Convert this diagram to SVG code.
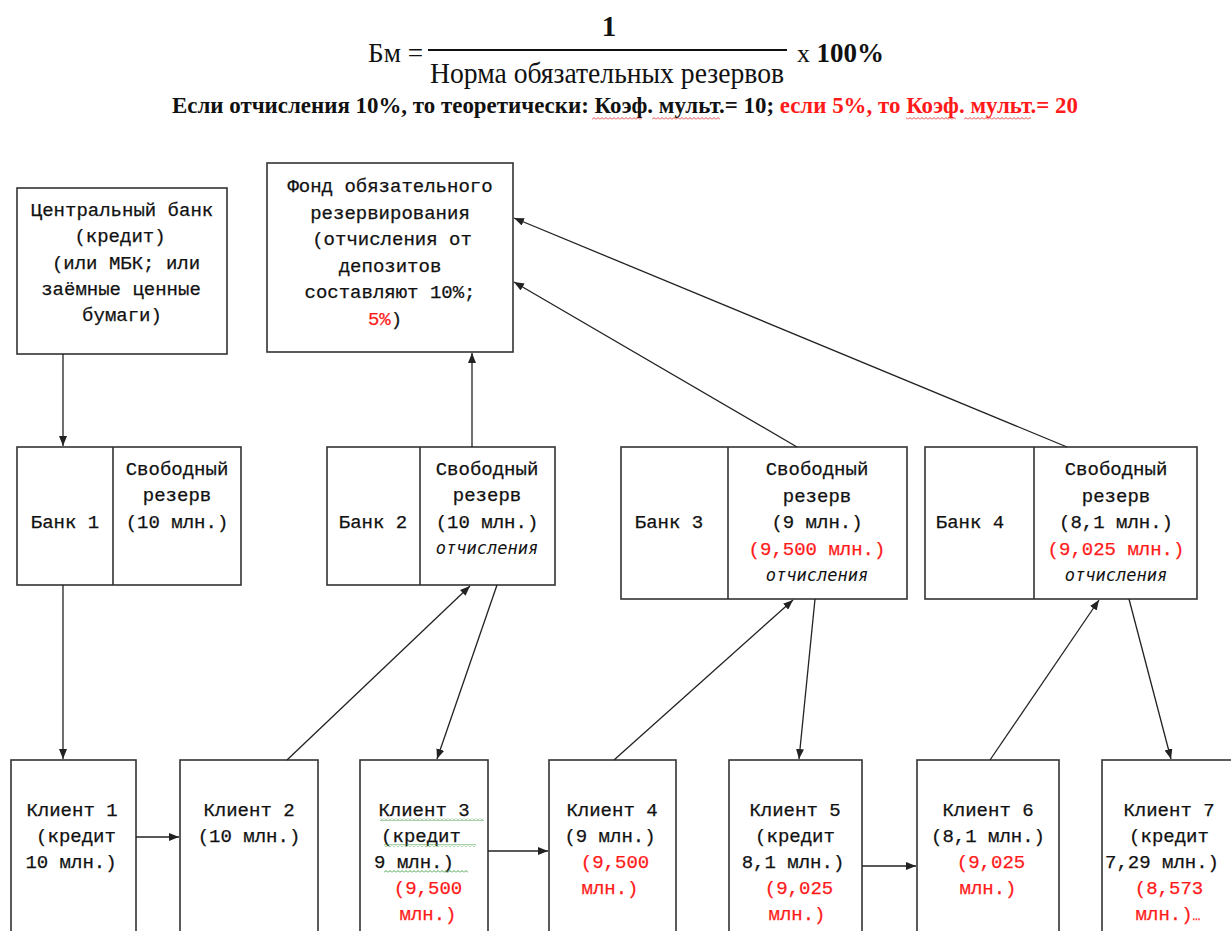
<svg xmlns="http://www.w3.org/2000/svg" width="1231" height="931" viewBox="0 0 1231 931">
<defs>
<style>
.box{fill:#fff;stroke:#333;stroke-width:1.6}
.m{font-family:"Liberation Mono","DejaVu Sans Mono",monospace;font-size:19px;fill:#111;text-anchor:middle;stroke:#111;stroke-width:0.25}
.it{font-family:"DejaVu Sans Mono","Liberation Mono",monospace;font-style:italic;font-size:17px;fill:#111;text-anchor:middle}
.r{fill:#ff1a1a}
.m.r,.m .r{stroke:#ff1a1a}
.ser{font-family:"Liberation Serif","Times New Roman",serif;fill:#111}
.con{stroke:#222;stroke-width:1.3;fill:none;marker-end:url(#ah)}
</style>
<marker id="ah" markerUnits="userSpaceOnUse" markerWidth="10" markerHeight="8" refX="10" refY="4" orient="auto">
<path d="M0,0 L10,4 L0,8 z" fill="#222"/>
</marker>
<pattern id="wg" width="4" height="3" patternUnits="userSpaceOnUse">
<path d="M0,2.5 L2,0.5 L4,2.5" fill="none" stroke="#3a9a3a" stroke-width="0.9"/>
</pattern>
<pattern id="wr" width="4" height="3" patternUnits="userSpaceOnUse">
<path d="M0,2.5 L2,0.5 L4,2.5" fill="none" stroke="#e03030" stroke-width="0.9"/>
</pattern>
</defs>

<g id="formula">
<text class="ser" x="368" y="62" font-size="28" textLength="55" lengthAdjust="spacingAndGlyphs">Бм =</text>
<text class="ser" x="609" y="36" font-size="29" font-weight="bold" text-anchor="middle">1</text>
<line x1="428" y1="50" x2="787" y2="50" stroke="#111" stroke-width="2"/>
<text class="ser" x="430" y="83" font-size="29" textLength="354" lengthAdjust="spacingAndGlyphs">Норма обязательных резервов</text>
<text class="ser" x="797" y="62" font-size="26">x <tspan font-size="27" font-weight="bold">100%</tspan></text>
<text class="ser" x="172" y="113" font-size="23" font-weight="bold" textLength="906" lengthAdjust="spacingAndGlyphs">Если отчисления 10%, то теоретически: Коэф. мульт.= 10; <tspan class="r">если 5%, то Коэф. мульт.= 20</tspan></text>
<rect x="592" y="117" width="50" height="3" fill="url(#wr)"/>
<rect x="652" y="117" width="68" height="3" fill="url(#wr)"/>
<rect x="906" y="117" width="50" height="3" fill="url(#wr)"/>
<rect x="964" y="117" width="67" height="3" fill="url(#wr)"/>
</g>

<g id="central-bank">
<rect class="box" x="17" y="188" width="210" height="166"/>
<text class="m" x="122" y="216">Центральный банк</text>
<text class="m" x="120" y="242">(кредит)</text>
<text class="m" x="126" y="269">(или МБК; или</text>
<text class="m" x="121" y="295">заёмные ценные</text>
<text class="m" x="122" y="321">бумаги)</text>
</g>

<g id="fund">
<rect class="box" x="267" y="163" width="246" height="189"/>
<text class="m" x="390" y="192">Фонд обязательного</text>
<text class="m" x="390" y="219">резервирования</text>
<text class="m" x="392" y="245">(отчисления от</text>
<text class="m" x="390" y="272">депозитов</text>
<text class="m" x="390" y="298">составляют 10%;</text>
<text class="m" x="385" y="325"><tspan class="r">5%</tspan>)</text>
</g>

<g id="bank1">
<rect class="box" x="17" y="447" width="224" height="138"/>
<line x1="113" y1="447" x2="113" y2="585" stroke="#333" stroke-width="1.6"/>
<text class="m" x="65" y="528">Банк 1</text>
<text class="m" x="177" y="475">Свободный</text>
<text class="m" x="177" y="501">резерв</text>
<text class="m" x="177" y="528">(10 млн.)</text>
</g>

<g id="bank2">
<rect class="box" x="327" y="447" width="228" height="138"/>
<line x1="420" y1="447" x2="420" y2="585" stroke="#333" stroke-width="1.6"/>
<text class="m" x="373" y="528">Банк 2</text>
<text class="m" x="487" y="475">Свободный</text>
<text class="m" x="487" y="501">резерв</text>
<text class="m" x="487" y="528">(10 млн.)</text>
<text class="it" x="487" y="554">отчисления</text>
</g>

<g id="bank3">
<rect class="box" x="621" y="447" width="286" height="152"/>
<line x1="728" y1="447" x2="728" y2="599" stroke="#333" stroke-width="1.6"/>
<text class="m" x="669" y="528">Банк 3</text>
<text class="m" x="817" y="475">Свободный</text>
<text class="m" x="817" y="502">резерв</text>
<text class="m" x="817" y="528">(9 млн.)</text>
<text class="m r" x="817" y="555">(9,500 млн.)</text>
<text class="it" x="817" y="581">отчисления</text>
</g>

<g id="bank4">
<rect class="box" x="925" y="447" width="272" height="152"/>
<line x1="1034" y1="447" x2="1034" y2="599" stroke="#333" stroke-width="1.6"/>
<text class="m" x="970" y="528">Банк 4</text>
<text class="m" x="1116" y="475">Свободный</text>
<text class="m" x="1116" y="502">резерв</text>
<text class="m" x="1116" y="528">(8,1 млн.)</text>
<text class="m r" x="1116" y="555">(9,025 млн.)</text>
<text class="it" x="1116" y="581">отчисления</text>
</g>

<g id="client1">
<rect class="box" x="11" y="760" width="125" height="190"/>
<text class="m" x="72" y="816">Клиент 1</text>
<text class="m" x="76" y="842">(кредит</text>
<text class="m" x="71" y="868">10 млн.)</text>
</g>

<g id="client2">
<rect class="box" x="180" y="760" width="138" height="190"/>
<text class="m" x="249" y="816">Клиент 2</text>
<text class="m" x="249" y="842">(10 млн.)</text>
</g>

<g id="client3">
<rect class="box" x="360" y="760" width="128" height="190"/>
<text class="m" x="424" y="816">Клиент 3</text>
<text class="m" x="421" y="842">(кредит</text>
<text class="m" x="414" y="868">9 млн.)</text>
<text class="m r" x="428" y="894">(9,500</text>
<text class="m r" x="428" y="920">млн.)</text>
<rect x="380" y="818" width="104" height="3" fill="url(#wg)"/>
<rect x="384" y="844" width="92" height="3" fill="url(#wg)"/>
<rect x="384" y="870" width="84" height="3" fill="url(#wg)"/>
</g>

<g id="client4">
<rect class="box" x="549" y="760" width="127" height="190"/>
<text class="m" x="612" y="816">Клиент 4</text>
<text class="m" x="610" y="842">(9 млн.)</text>
<text class="m r" x="615" y="868">(9,500</text>
<text class="m r" x="610" y="894">млн.)</text>
</g>

<g id="client5">
<rect class="box" x="729" y="760" width="133" height="190"/>
<text class="m" x="795" y="816">Клиент 5</text>
<text class="m" x="795" y="842">(кредит</text>
<text class="m" x="793" y="868">8,1 млн.)</text>
<text class="m r" x="799" y="894">(9,025</text>
<text class="m r" x="797" y="920">млн.)</text>
</g>

<g id="client6">
<rect class="box" x="917" y="760" width="142" height="190"/>
<text class="m" x="988" y="816">Клиент 6</text>
<text class="m" x="988" y="842">(8,1 млн.)</text>
<text class="m r" x="991" y="868">(9,025</text>
<text class="m r" x="988" y="894">млн.)</text>
</g>

<g id="client7">
<rect class="box" x="1102" y="760" width="140" height="190"/>
<text class="m" x="1169" y="816">Клиент 7</text>
<text class="m" x="1169" y="842">(кредит</text>
<text class="m" x="1162" y="868">7,29 млн.)</text>
<text class="m r" x="1169" y="894">(8,573</text>
<text class="m" x="1168" y="920"><tspan class="r">млн.)</tspan><tspan class="r" font-size="13">…</tspan></text>
</g>

<g id="connectors">
<line class="con" x1="63" y1="354" x2="63" y2="446"/>
<line class="con" x1="63" y1="585" x2="63" y2="759"/>
<line class="con" x1="136" y1="837" x2="179" y2="837"/>
<line class="con" x1="488" y1="851" x2="548" y2="851"/>
<line class="con" x1="862" y1="866" x2="916" y2="866"/>
<line class="con" x1="472" y1="447" x2="472" y2="353"/>
<line class="con" x1="797" y1="447" x2="514" y2="282"/>
<line class="con" x1="1067" y1="447" x2="514" y2="218"/>
<line class="con" x1="287" y1="760" x2="470" y2="586"/>
<line class="con" x1="497" y1="585" x2="437" y2="759"/>
<line class="con" x1="614" y1="760" x2="793" y2="600"/>
<line class="con" x1="815" y1="599" x2="799" y2="759"/>
<line class="con" x1="990" y1="760" x2="1099" y2="600"/>
<line class="con" x1="1129" y1="599" x2="1171" y2="759"/>
</g>
</svg>
